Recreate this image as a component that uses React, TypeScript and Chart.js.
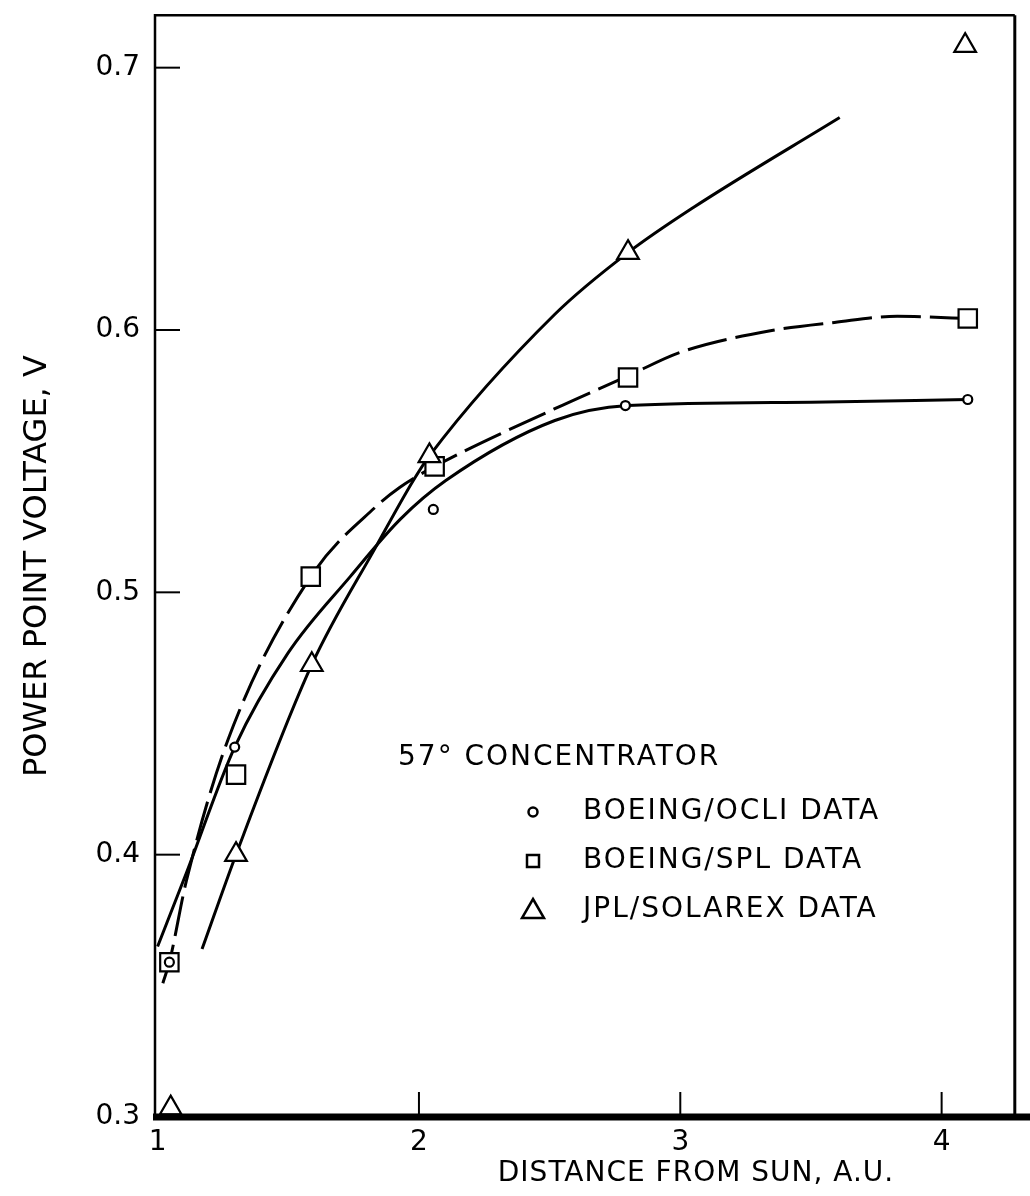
import React, { useEffect, useRef } from 'react';
import { Chart, registerables } from 'chart.js';

Chart.register(...registerables);

// Axis ticks
const xTickValues = [1, 2, 3, 4];
const xTickLabels = ['1', '2', '3', '4'];
const yTickValues = [0.3, 0.4, 0.5, 0.6, 0.7];
const yTickLabels = ['0.3', '0.4', '0.5', '0.6', '0.7'];

// Legend / series names
const legendTitle = '57\u00B0 CONCENTRATOR';
const seriesNames = ['BOEING/OCLI DATA', 'BOEING/SPL DATA', 'JPL/SOLAREX DATA'];
const xTitle = 'DISTANCE FROM SUN, A.U.';
const yTitle = 'POWER POINT VOLTAGE, V';

// Measured points
const ocliX = [1.045, 1.295, 2.055, 2.79, 4.1];
const ocliY = [0.359, 0.441, 0.5316, 0.5712, 0.5735];
const splX = [1.045, 1.3, 1.586, 2.06, 2.8, 4.1];
const splY = [0.359, 0.4305, 0.506, 0.548, 0.5819, 0.6044];
const jplX = [1.05, 1.3, 1.59, 2.04, 2.8, 4.09];
const jplY = [0.3034, 0.4, 0.4724, 0.552, 0.6295, 0.7084];

// Hand-drawn fitted curves (traced)
const ocliCurveX = [1.0, 1.11, 1.295, 1.5, 1.737, 1.93, 2.104, 2.52, 2.8, 3.5, 4.1];
const ocliCurveY = [0.365, 0.393, 0.441, 0.477, 0.506, 0.528, 0.5427, 0.5655, 0.5712, 0.5725, 0.5735];
const splCurveX = [1.02, 1.045, 1.11, 1.27, 1.586, 1.839, 1.926, 2.06, 2.52, 2.8, 3.0, 3.35, 3.59, 3.83, 4.04, 4.1];
const splCurveY = [0.351, 0.359, 0.39, 0.444, 0.506, 0.533, 0.54, 0.548, 0.57, 0.5825, 0.5915, 0.5998, 0.6029, 0.6052, 0.6046, 0.6044];
const jplCurveX = [1.17, 1.3, 1.59, 1.839, 1.979, 2.04, 2.52, 2.8, 3.05, 3.61];
const jplCurveY = [0.364, 0.4, 0.4724, 0.518, 0.5427, 0.552, 0.606, 0.6295, 0.6467, 0.681];

const FONT = '"DejaVu Sans", sans-serif';

const toPts = (xs: number[], ys: number[]) => xs.map((x, i) => ({ x, y: ys[i] }));

const overlayPlugin = {
  id: 'overlay',
  beforeDraw(chart: any) {
    const ctx = chart.ctx;
    ctx.save();
    ctx.fillStyle = '#fff';
    ctx.fillRect(0, 0, chart.width, chart.height);
    ctx.restore();
  },
  afterDraw(chart: any) {
    const ctx = chart.ctx as CanvasRenderingContext2D;
    const { left, right, top, bottom } = chart.chartArea;
    const xs = chart.scales.x;
    const ys = chart.scales.y;
    ctx.save();
    ctx.strokeStyle = '#000';
    ctx.lineCap = 'butt';
    // frame
    ctx.lineWidth = 2.5;
    ctx.beginPath();
    ctx.moveTo(left, bottom);
    ctx.lineTo(left, top);
    ctx.lineTo(right, top);
    ctx.stroke();
    ctx.lineWidth = 3;
    ctx.beginPath();
    ctx.moveTo(right, top);
    ctx.lineTo(right, bottom);
    ctx.stroke();
    ctx.lineWidth = 7;
    ctx.beginPath();
    ctx.moveTo(left - 2, bottom);
    ctx.lineTo(chart.width, bottom);
    ctx.stroke();
    // inward ticks
    ctx.lineWidth = 2;
    yTickValues.forEach((v) => {
      if (v === yTickValues[0]) return;
      const py = ys.getPixelForValue(v);
      ctx.beginPath();
      ctx.moveTo(left, py);
      ctx.lineTo(left + 25, py);
      ctx.stroke();
    });
    xTickValues.forEach((v) => {
      if (v === xTickValues[0]) return;
      const px = xs.getPixelForValue(v);
      ctx.beginPath();
      ctx.moveTo(px, bottom);
      ctx.lineTo(px, bottom - 25);
      ctx.stroke();
    });

    // x axis title
    ctx.fillStyle = '#000';
    (ctx as any).letterSpacing = '1px';
    ctx.font = `28px ${FONT}`;
    ctx.textAlign = 'center';
    ctx.textBaseline = 'middle';
    ctx.fillText(xTitle, 696, 1174);

    // legend block
    (ctx as any).letterSpacing = '2px';
    ctx.textAlign = 'left';
    ctx.font = `28px ${FONT}`;
    ctx.fillText(legendTitle, 398, 758);
    const rowsY = [812, 861, 910];
    const mx = 533;
    seriesNames.forEach((name, i) => {
      ctx.fillText(name, 583, rowsY[i]);
    });
    (ctx as any).letterSpacing = '0px';
    ctx.lineWidth = 2.5;
    ctx.fillStyle = '#fff';
    // circle
    ctx.beginPath();
    ctx.arc(mx, rowsY[0], 4.5, 0, Math.PI * 2);
    ctx.fill();
    ctx.stroke();
    // small square
    ctx.beginPath();
    ctx.rect(mx - 6, rowsY[1] - 6, 12, 12);
    ctx.fill();
    ctx.stroke();
    // triangle
    ctx.beginPath();
    ctx.moveTo(mx, rowsY[2] - 11);
    ctx.lineTo(mx + 11, rowsY[2] + 8);
    ctx.lineTo(mx - 11, rowsY[2] + 8);
    ctx.closePath();
    ctx.fill();
    ctx.stroke();
    ctx.restore();
  },
};

export default function App() {
  const ref = useRef<HTMLCanvasElement>(null);

  useEffect(() => {
    const canvas = ref.current;
    if (!canvas) return;
    const curveBase = {
      showLine: true,
      pointRadius: 0,
      pointHoverRadius: 0,
      borderColor: '#000',
      backgroundColor: '#000',
      borderWidth: 3,
      cubicInterpolationMode: 'monotone' as const,
      order: 3,
    };
    const chart = new Chart(canvas, {
      type: 'scatter',
      data: {
        datasets: [
          {
            label: seriesNames[0],
            data: toPts(ocliX, ocliY),
            pointStyle: 'circle',
            pointRadius: 4.5,
            pointBorderWidth: 2.2,
            borderColor: '#000',
            backgroundColor: '#fff',
            order: 0,
          },
          {
            label: seriesNames[1],
            data: toPts(splX, splY),
            pointStyle: 'rect',
            pointRadius: 13,
            pointBorderWidth: 2.2,
            borderColor: '#000',
            backgroundColor: '#fff',
            order: 1,
          },
          {
            label: seriesNames[2],
            data: toPts(jplX, jplY),
            pointStyle: 'triangle',
            pointRadius: 12.5,
            pointBorderWidth: 2.2,
            borderColor: '#000',
            backgroundColor: '#fff',
            order: 0,
          },
          { ...curveBase, label: seriesNames[0] + ' curve', data: toPts(ocliCurveX, ocliCurveY) },
          { ...curveBase, label: seriesNames[1] + ' curve', data: toPts(splCurveX, splCurveY), borderDash: [40, 9] },
          { ...curveBase, label: seriesNames[2] + ' curve', data: toPts(jplCurveX, jplCurveY) },
        ] as any,
      },
      options: {
        animation: false,
        responsive: false,
        events: [],
        layout: { padding: { top: 12, right: 5, left: 0, bottom: 0 } },
        plugins: {
          legend: { display: false },
          tooltip: { enabled: false },
        },
        scales: {
          x: {
            type: 'linear',
            position: 'bottom',
            min: 0.99,
            max: 4.28,
            grid: { display: false },
            border: { display: false },
            afterBuildTicks: (scale: any) => {
              scale.ticks = xTickValues.map((v) => ({ value: v }));
            },
            afterFit: (scale: any) => {
              scale.height = 79;
              scale.paddingLeft = 0;
              scale.paddingRight = 0;
              scale.paddingTop = 0;
              scale.paddingBottom = 0;
            },
            ticks: {
              color: '#000',
              font: { family: FONT, size: 28 },
              padding: 1,
              maxRotation: 0,
              autoSkip: false,
              callback: (v: any) => {
                const i = xTickValues.indexOf(Number(v));
                return i >= 0 ? xTickLabels[i] : '';
              },
            },
          },
          y: {
            type: 'linear',
            min: 0.3,
            max: 0.72,
            grid: { display: false },
            border: { display: false },
            afterBuildTicks: (scale: any) => {
              scale.ticks = yTickValues.map((v) => ({ value: v }));
            },
            afterFit: (scale: any) => {
              scale.width = 155;
              scale.paddingLeft = 0;
              scale.paddingRight = 0;
              scale.paddingTop = 0;
              scale.paddingBottom = 0;
            },
            title: {
              display: true,
              text: yTitle,
              color: '#000',
              font: { family: FONT, size: 32 },
              padding: { top: 18, bottom: 0 },
            },
            ticks: {
              color: '#000',
              font: { family: FONT, size: 28 },
              padding: 7,
              autoSkip: false,
              callback: (v: any) => {
                const i = yTickValues.findIndex((t) => Math.abs(t - Number(v)) < 1e-9);
                return i >= 0 ? yTickLabels[i] : '';
              },
            },
          },
        },
      },
      plugins: [overlayPlugin],
    });
    return () => chart.destroy();
  }, []);

  return (
    <div style={{ position: 'absolute', left: 0, top: 0, width: 1030, height: 1196, background: '#fff' }}>
      <canvas ref={ref} width={1030} height={1196} style={{ display: 'block' }} />
    </div>
  );
}
